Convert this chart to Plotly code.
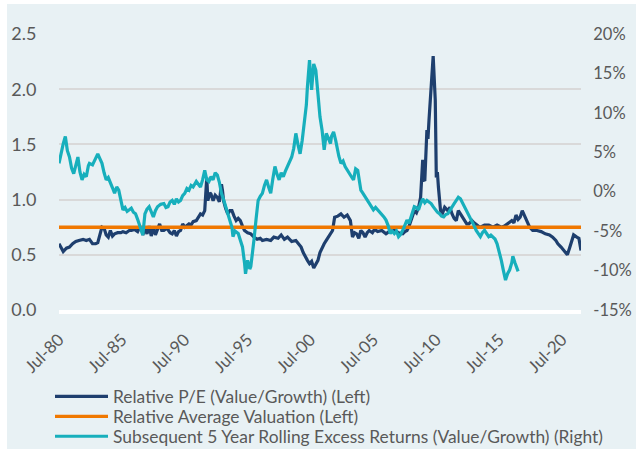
import plotly.graph_objects as go

# ---------------- data ----------------
pe_dates = ["1980-07","1980-09","1980-11","1981-02","1981-05","1981-08","1981-11","1982-02","1982-06","1982-09",
            "1982-12","1983-03","1983-06","1983-08","1983-10","1983-12","1984-02","1984-04","1984-06","1984-08",
            "1984-10","1984-12","1985-03","1985-06","1985-08","1985-11","1986-02","1986-04","1986-07","1986-10",
            "1986-12","1987-02","1987-03","1987-05","1987-07","1987-09","1987-11","1988-01","1988-03","1988-05",
            "1988-07","1988-09","1988-11","1989-02","1989-05","1989-07","1989-09","1989-11","1990-01","1990-03",
            "1990-05","1990-07","1990-09","1990-11","1991-01","1991-03","1991-06","1991-08","1991-10","1991-12",
            "1992-02","1992-03","1992-04","1992-05","1992-07","1992-08","1992-10","1992-12","1993-02","1993-04",
            "1993-06","1993-07","1993-08","1993-10","1993-12","1994-02","1994-04","1994-06","1994-08","1994-10",
            "1994-12","1995-02","1995-04","1995-07","1995-10","1996-01","1996-04","1996-07","1996-09","1997-01",
            "1997-05","1997-08","1997-12","1998-03","1998-06","1998-09","1999-01","1999-05","1999-08","1999-10",
            "1999-12","2000-02","2000-04","2000-06","2000-08","2000-10","2000-12","2001-02","2001-04","2001-06",
            "2001-08","2001-10","2001-12","2002-02","2002-04","2002-06","2002-09","2002-12","2003-03","2003-06",
            "2003-09","2003-11","2004-01","2004-03","2004-05","2004-07","2004-09","2004-11","2005-01","2005-03",
            "2005-06","2005-08","2005-11","2006-03","2006-07","2006-10","2007-03","2007-07","2007-11","2008-01",
            "2008-03","2008-05","2008-07","2008-10","2008-12","2009-02","2009-04","2009-06","2009-07","2009-08",
            "2009-10","2009-11","2009-12","2010-02","2010-03","2010-04","2010-05","2010-06","2010-07","2010-08",
            "2010-09","2010-11","2011-01","2011-03","2011-06","2011-08","2011-10","2011-12","2012-02","2012-04",
            "2012-06","2012-08","2012-10","2012-12","2013-02","2013-05","2013-07","2013-09","2013-11","2014-01",
            "2014-05","2014-09","2015-01","2015-05","2015-09","2015-12","2016-03","2016-05","2016-07","2016-09",
            "2016-11","2017-01","2017-03","2017-05","2017-08","2017-10","2017-12","2018-03","2018-07","2018-11",
            "2019-03","2019-07","2019-10","2020-01","2020-03","2020-06","2020-09","2020-12","2021-02","2021-04",
            "2021-06","2021-09","2021-11","2022-01"]
pe_values = [0.60,0.56,0.53,0.56,0.57,0.60,0.62,0.63,0.64,0.63,
             0.64,0.60,0.60,0.61,0.69,0.75,0.74,0.68,0.66,0.72,
             0.67,0.69,0.70,0.70,0.71,0.70,0.72,0.72,0.73,0.71,
             0.75,0.73,0.68,0.74,0.69,0.76,0.67,0.75,0.68,0.74,
             0.78,0.72,0.72,0.74,0.70,0.69,0.72,0.67,0.71,0.72,
             0.78,0.75,0.77,0.78,0.77,0.80,0.81,0.84,0.87,0.86,
             0.90,1.05,1.20,0.99,1.06,1.05,0.99,1.04,1.02,0.98,
             1.14,1.08,0.99,0.92,0.87,0.90,0.90,0.85,0.81,0.83,
             0.81,0.76,0.72,0.70,0.69,0.66,0.64,0.65,0.63,0.64,
             0.63,0.66,0.65,0.68,0.64,0.66,0.62,0.63,0.60,0.57,
             0.52,0.48,0.45,0.42,0.44,0.38,0.41,0.45,0.52,0.57,
             0.60,0.63,0.66,0.69,0.72,0.84,0.85,0.87,0.84,0.86,
             0.81,0.66,0.70,0.69,0.65,0.72,0.70,0.66,0.70,0.72,
             0.70,0.73,0.71,0.72,0.69,0.71,0.72,0.70,0.69,0.71,
             0.72,0.76,0.81,0.90,0.88,0.93,1.02,1.36,1.18,1.17,
             1.63,1.55,1.72,2.05,2.25,2.30,2.10,1.90,1.20,1.25,
             1.11,0.90,0.88,0.93,0.90,0.93,0.87,0.83,0.81,0.90,
             0.87,0.84,0.81,0.78,0.78,0.81,0.79,0.77,0.76,0.75,
             0.77,0.77,0.75,0.77,0.75,0.76,0.78,0.80,0.81,0.79,
             0.86,0.82,0.84,0.90,0.84,0.80,0.75,0.72,0.72,0.71,
             0.69,0.68,0.66,0.63,0.60,0.57,0.53,0.50,0.56,0.62,
             0.68,0.66,0.65,0.54]

avg_valuation = 0.75

ret_dates = ["1980-07","1980-09","1980-11","1981-01","1981-03","1981-05","1981-07","1981-09","1981-11","1982-01",
             "1982-03","1982-05","1982-07","1982-09","1982-11","1982-12","1983-03","1983-06","1983-08","1983-10",
             "1983-12","1984-02","1984-04","1984-06","1984-08","1984-10","1984-12","1985-02","1985-04","1985-06",
             "1985-08","1985-10","1985-12","1986-02","1986-04","1986-06","1986-08","1986-10","1986-12","1987-02",
             "1987-03","1987-05","1987-07","1987-09","1987-11","1988-01","1988-03","1988-05","1988-08","1988-11",
             "1989-01","1989-03","1989-05","1989-07","1989-09","1989-11","1990-01","1990-03","1990-05","1990-07",
             "1990-09","1990-11","1991-01","1991-03","1991-06","1991-08","1991-10","1991-12","1992-02","1992-04",
             "1992-06","1992-08","1992-10","1992-12","1993-02","1993-04","1993-06","1993-08","1993-10","1993-12",
             "1994-02","1994-04","1994-05","1994-07","1994-10","1994-12","1995-02","1995-04","1995-05","1995-07",
             "1995-09","1995-10","1995-12","1996-01","1996-03","1996-05","1996-07","1996-09","1996-11","1997-01",
             "1997-03","1997-05","1997-07","1997-09","1997-11","1998-01","1998-03","1998-05","1998-07","1998-09",
             "1998-11","1999-01","1999-03","1999-05","1999-07","1999-09","1999-11","2000-01","2000-03","2000-04",
             "2000-06","2000-07","2000-08","2000-10","2000-12","2001-02","2001-04","2001-06","2001-07","2001-08",
             "2001-10","2001-12","2002-02","2002-03","2002-05","2002-07","2002-08","2002-10","2002-12","2003-02",
             "2003-04","2003-06","2003-08","2003-10","2003-12","2004-02","2004-04","2004-06","2004-07","2004-09",
             "2004-11","2005-01","2005-03","2005-05","2005-07","2005-09","2005-11","2006-01","2006-03","2006-05",
             "2006-07","2006-09","2006-11","2007-01","2007-03","2007-05","2007-07","2007-09","2007-11","2008-01",
             "2008-03","2008-05","2008-07","2008-09","2008-10","2008-12","2009-02","2009-04","2009-06","2009-08",
             "2009-10","2009-12","2010-02","2010-04","2010-06","2010-08","2010-10","2010-12","2011-02","2011-04",
             "2011-06","2011-08","2011-10","2011-12","2012-02","2012-04","2012-06","2012-08","2012-10","2012-12",
             "2013-01","2013-03","2013-05","2013-07","2013-09","2013-11","2014-01","2014-03","2014-05","2014-07",
             "2014-09","2014-11","2015-01","2015-03","2015-05","2015-07","2015-09","2015-11","2016-01","2016-03",
             "2016-05","2016-07","2016-08","2016-10","2016-11","2017-01"]
ret_values = [3.6,5.0,6.1,7.0,5.2,4.4,3.0,2.3,3.5,4.4,
              2.5,1.5,2.2,1.9,3.3,3.6,3.4,4.4,4.8,4.2,
              3.6,2.4,1.5,1.8,1.0,0.5,-0.2,0.6,0.2,-1.2,
              -2.3,-2.0,-2.5,-2.3,-2.1,-2.6,-2.8,-3.5,-4.4,-5.0,
              -5.5,-2.8,-2.2,-1.9,-2.6,-3.2,-2.4,-1.9,-1.6,-1.5,
              -2.0,-1.9,-1.3,-1.1,-1.6,-0.9,-1.3,-1.1,-0.5,-0.2,
              0.4,0.2,0.8,0.6,1.3,0.9,0.6,1.5,2.7,1.5,
              1.3,1.9,1.5,2.4,2.1,1.2,-0.2,-1.0,-1.9,-2.8,
              -3.6,-4.5,-5.7,-5.0,-5.3,-6.2,-7.0,-9.0,-10.4,-8.7,
              -9.8,-9.5,-7.5,-6.1,-3.5,-1.1,-0.6,-0.2,0.8,1.5,
              0.6,-0.2,1.6,3.2,2.2,1.5,2.4,1.9,2.6,3.2,
              3.6,4.4,5.5,7.4,6.0,4.8,6.5,8.6,11.0,13.3,
              16.7,14.8,12.9,16.2,15.4,12.4,9.5,7.8,6.0,5.3,
              7.4,6.6,6.1,7.0,7.6,6.5,5.7,4.5,3.6,3.9,
              3.2,2.7,2.3,1.9,1.5,2.9,2.7,1.1,0.2,-0.2,
              -0.6,-1.1,-1.5,-1.9,-2.3,-2.0,-2.3,-2.6,-2.8,-3.2,
              -3.6,-4.3,-5.3,-5.0,-5.3,-5.0,-5.7,-5.4,-4.9,-4.2,
              -3.6,-4.0,-3.2,-2.6,-1.9,-2.0,-2.3,-1.5,-0.9,-1.4,
              -1.1,-1.3,-1.5,-1.9,-2.3,-2.6,-2.8,-3.1,-3.2,-2.9,
              -2.8,-2.3,-1.9,-1.5,-1.1,-0.7,-0.9,-1.4,-1.9,-2.5,
              -2.8,-3.2,-3.6,-4.3,-4.9,-5.3,-5.7,-5.2,-4.9,-5.3,
              -5.7,-5.5,-5.7,-6.0,-6.6,-7.5,-8.7,-10.0,-11.2,-10.4,
              -9.9,-9.0,-8.2,-9.0,-9.5,-10.1]

x_tick_dates = ["1980-07-01","1985-07-01","1990-07-01","1995-07-01","2000-07-01",
                "2005-07-01","2010-07-01","2015-07-01","2020-07-01"]
x_tick_labels = ["Jul-80","Jul-85","Jul-90","Jul-95","Jul-00","Jul-05","Jul-10","Jul-15","Jul-20"]
left_ticks = [0.0, 0.5, 1.0, 1.5, 2.0, 2.5]
right_ticks = [-15, -10, -5, 0, 5, 10, 15, 20]
right_labels = ["-15%", "-10%", "-5%", "0%", "5%", "10%", "15%", "20%"]

names = ["Relative P/E (Value/Growth) (Left)",
         "Relative Average Valuation (Left)",
         "Subsequent 5 Year Rolling Excess Returns (Value/Growth) (Right)"]

# ---------------- style / layout ----------------
NAVY = "#1E3F6E"
ORANGE = "#F07800"
CYAN = "#17AFBC"
BG = "#E8F1F4"
TXT = "#595959"
FONT = "Lato"
colors = [NAVY, ORANGE, CYAN]

W, H = 636, 449
ML, MR, MT, MB = 59, 55, 34, 138.5
PW, PH = W - ML - MR, H - MT - MB


def px_x(p):
    return (p - ML) / PW


def px_y(p):
    return (H - MB - p) / PH


fig = go.Figure()
fig.add_trace(go.Scatter(x=pe_dates, y=pe_values, name=names[0], mode="lines",
                         line=dict(color=NAVY, width=3.2), yaxis="y"))
fig.add_trace(go.Scatter(x=[pe_dates[0], pe_dates[-1]], y=[avg_valuation, avg_valuation],
                         name=names[1], mode="lines",
                         line=dict(color=ORANGE, width=3.5), yaxis="y"))
fig.add_trace(go.Scatter(x=ret_dates, y=ret_values, name=names[2], mode="lines",
                         line=dict(color=CYAN, width=3.2), yaxis="y2"))

# chart-area background (white strip at top/left as in the reference)
fig.add_shape(type="rect", xref="paper", yref="paper",
              x0=px_x(7), x1=px_x(W + 5), y0=px_y(H + 5), y1=px_y(4),
              fillcolor=BG, line=dict(width=0), layer="below")

# legend drawn as line samples + text
row_y = [397, 417, 437]
for name, col, ry in zip(names, colors, row_y):
    fig.add_shape(type="line", xref="paper", yref="paper",
                  x0=px_x(55), x1=px_x(108), y0=px_y(ry), y1=px_y(ry),
                  line=dict(color=col, width=3.2))
    fig.add_annotation(xref="paper", yref="paper", x=px_x(111), y=px_y(ry),
                       xanchor="left", yanchor="middle", text=name, showarrow=False,
                       font=dict(family=FONT, size=17.4, color=TXT))

fig.update_layout(
    width=W, height=H,
    margin=dict(l=ML, r=MR, t=MT, b=MB, autoexpand=False),
    paper_bgcolor="white",
    plot_bgcolor="rgba(0,0,0,0)",
    font=dict(family=FONT, color=TXT),
    showlegend=False,
    hovermode=False,
    xaxis=dict(type="date", range=[pe_dates[0] + "-01", pe_dates[-1] + "-01"],
               tickvals=x_tick_dates, ticktext=x_tick_labels, tickangle=-45,
               tickfont=dict(family=FONT, size=17, color=TXT),
               showgrid=False, zeroline=False, automargin=False,
               showline=True, linecolor="white", linewidth=4,
               ticks="outside", ticklen=9, tickcolor="rgba(0,0,0,0)"),
    yaxis=dict(range=[0, 2.5], tickvals=left_ticks, tickformat=".1f",
               tickfont=dict(family=FONT, size=18, color=TXT), automargin=False,
               showgrid=True, gridcolor="#D9D9D9", gridwidth=1.5, zeroline=False,
               ticks="outside", ticklen=18, tickcolor="rgba(0,0,0,0)"),
    yaxis2=dict(range=[-15, 20], overlaying="y", side="right", automargin=False,
                tickvals=right_ticks, ticktext=right_labels,
                tickfont=dict(family=FONT, size=16.5, color=TXT),
                showgrid=False, zeroline=False,
                ticks="outside", ticklen=8, tickcolor="rgba(0,0,0,0)"),
)

fig.write_html("out.html", config={"displayModeBar": False},
               post_script="document.body.style.margin='0';document.body.style.overflow='hidden';")
